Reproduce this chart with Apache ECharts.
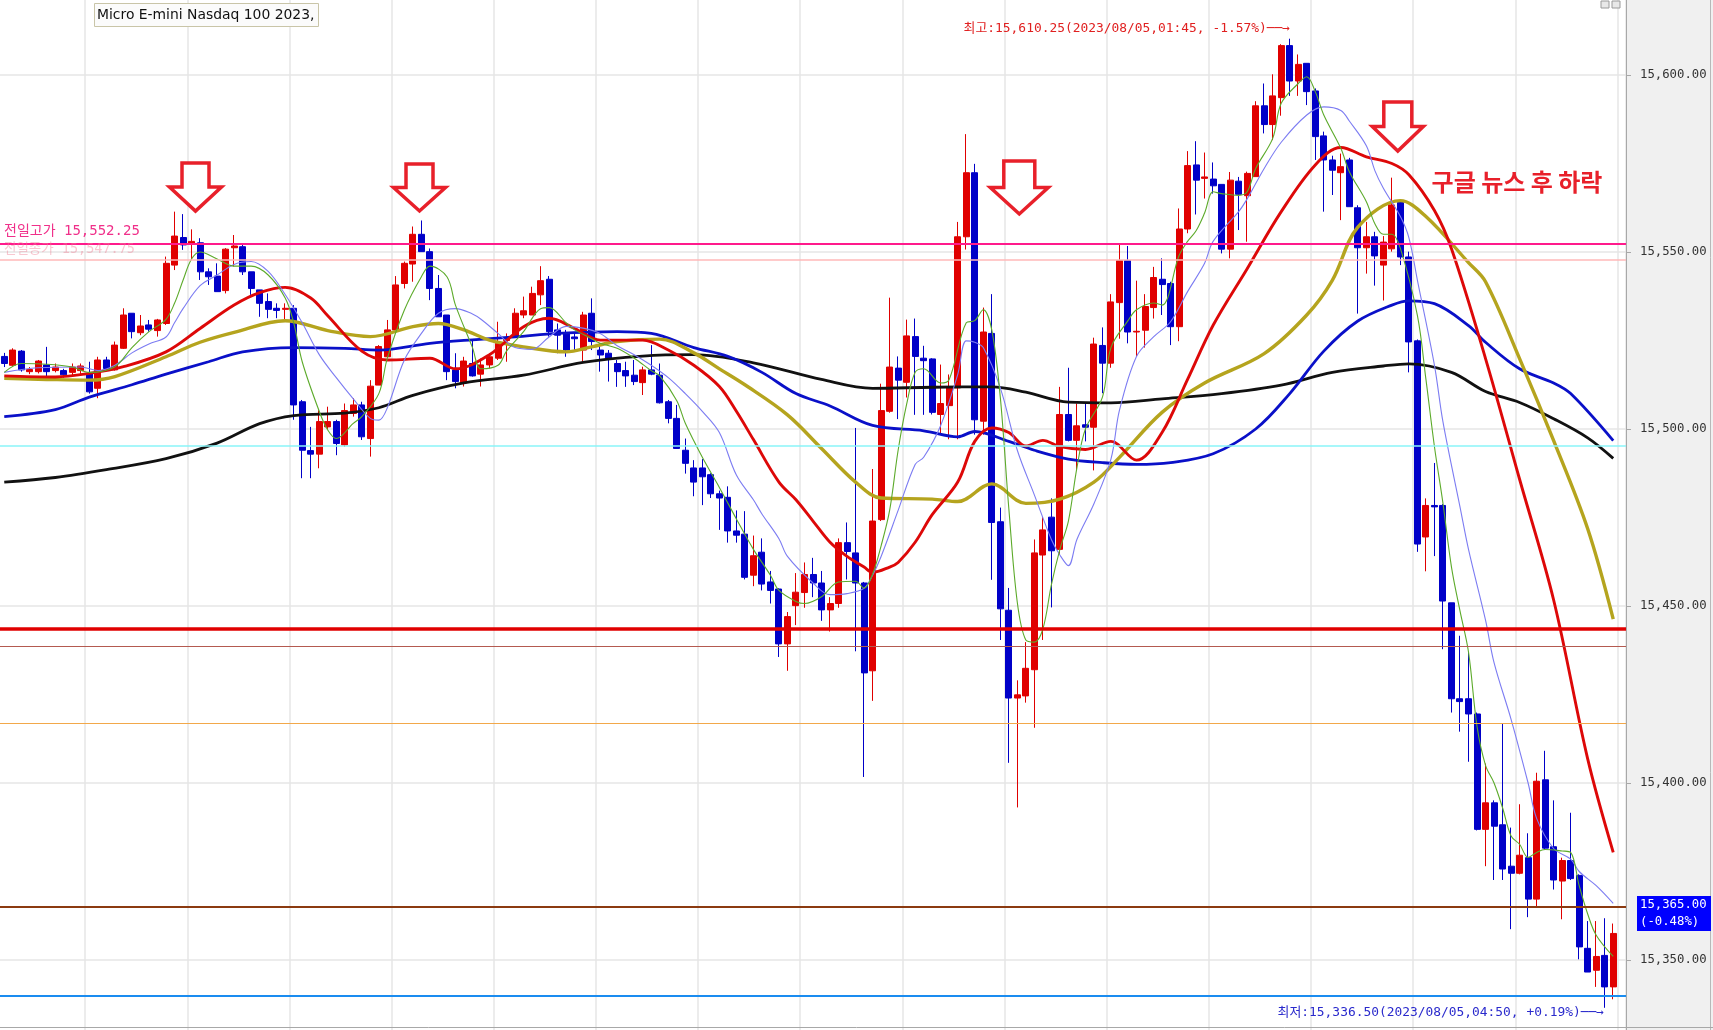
<!DOCTYPE html>
<html><head><meta charset="utf-8">
<script src="https://cdn.jsdelivr.net/npm/echarts@6/dist/echarts.min.js"></script>
<style>html,body{margin:0;padding:0;background:#f0f0f0}#c{width:1713px;height:1030px}</style>
</head><body><div id="c"></div>
<script>
// ---------- data (5-minute candles, Micro E-mini Nasdaq 100) ----------
const startHour = 13, startMinute = 10, slotCount = 191; // one empty slot on the right
const categories = [];
for (let k = 0; k < slotCount; k++) {
  const m = (startHour * 60 + startMinute + 5 * k) % 1440;
  categories.push(String(Math.floor(m / 60)).padStart(2, '0') + ':' + String(m % 60).padStart(2, '0'));
}

const opens = [15520.5,15518.0,15522.0,15516.2,15516.2,15518.1,15516.5,15516.5,15516.0,15516.5,
15515.7,15511.5,15519.5,15516.7,15522.8,15532.7,15527.2,15529.4,15527.8,15529.8,
15546.3,15554.1,15552.5,15552.6,15544.4,15543.2,15539.1,15551.2,15551.5,15544.4,
15539.3,15536.0,15534.1,15533.8,15534.1,15507.7,15493.9,15492.9,15500.6,15502.1,
15495.5,15504.4,15506.8,15497.3,15512.4,15520.4,15528.0,15541.1,15546.6,15555.0,
15550.1,15539.7,15532.2,15516.7,15513.0,15518.5,15515.5,15518.1,15520.0,15525.0,
15526.1,15532.2,15532.2,15537.9,15542.3,15528.0,15527.2,15526.0,15522.3,15532.7,
15522.3,15521.4,15518.5,15516.5,15515.2,15513.1,15516.7,15515.2,15507.7,15503.0,
15494.0,15489.0,15489.0,15487.1,15481.7,15480.7,15471.2,15470.3,15458.7,15465.2,
15456.8,15454.8,15439.3,15450.1,15453.8,15458.9,15456.5,15448.9,15450.7,15467.9,
15465.0,15456.5,15431.7,15474.4,15505.0,15517.2,15513.2,15526.1,15520.0,15519.8,
15504.1,15506.6,15511.6,15554.3,15572.4,15502.2,15527.0,15473.8,15448.8,15424.0,
15424.6,15432.0,15464.4,15475.1,15466.0,15504.1,15496.8,15501.2,15500.5,15523.6,
15518.6,15535.7,15547.6,15527.4,15527.9,15534.3,15542.3,15541.1,15528.9,15556.5,
15574.6,15570.8,15570.6,15569.1,15550.8,15570.0,15565.9,15571.3,15591.3,15586.0,
15593.6,15608.3,15598.3,15603.3,15595.5,15582.8,15576.0,15572.4,15576.0,15562.5,
15551.2,15554.3,15546.3,15550.9,15564.0,15548.6,15524.9,15469.5,15478.4,15478.4,
15450.9,15423.8,15423.8,15419.5,15386.9,15394.4,15388.2,15376.5,15374.5,15378.9,
15367.2,15400.9,15382.0,15372.3,15378.1,15373.9,15353.3,15347.1,15351.3,15342.4];

const closes = [15518.5,15522.3,15516.7,15516.8,15519.2,15516.2,15517.5,15515.3,15517.5,15517.8,
15510.5,15519.5,15517.1,15523.7,15532.2,15527.5,15529.1,15528.2,15530.8,15546.8,
15554.5,15552.0,15553.0,15544.4,15543.0,15538.8,15550.8,15551.7,15544.4,15539.7,
15535.5,15533.8,15533.5,15534.1,15506.8,15494.0,15492.9,15502.1,15502.1,15495.9,
15505.2,15506.8,15497.8,15512.1,15523.3,15528.0,15540.7,15546.8,15555.0,15550.1,
15539.7,15531.7,15516.2,15513.4,15519.2,15515.0,15518.1,15520.4,15524.2,15525.6,
15532.7,15533.4,15538.3,15541.9,15527.5,15526.5,15522.3,15525.5,15532.2,15524.7,
15520.9,15519.9,15516.2,15515.0,15513.4,15516.7,15515.5,15507.4,15503.0,15494.5,
15490.3,15485.0,15486.5,15481.7,15480.5,15471.2,15470.0,15458.1,15464.2,15456.2,
15454.4,15439.3,15447.0,15453.9,15458.9,15456.5,15448.9,15450.7,15467.9,15465.4,
15456.5,15431.1,15474.0,15505.2,15517.5,15513.8,15526.3,15520.5,15519.3,15504.7,
15507.2,15511.9,15554.3,15572.4,15502.6,15527.4,15473.6,15449.2,15424.0,15424.9,
15432.4,15465.0,15471.5,15465.6,15504.1,15496.8,15500.9,15500.5,15524.0,15518.6,
15535.9,15547.6,15527.4,15527.6,15534.6,15542.8,15540.8,15528.9,15556.5,15574.4,
15570.3,15571.2,15568.7,15550.8,15570.3,15566.3,15572.2,15591.3,15586.0,15594.1,
15608.3,15598.3,15603.0,15595.3,15582.6,15576.0,15573.1,15574.1,15562.8,15551.2,
15554.3,15548.9,15552.8,15563.3,15548.6,15524.6,15467.5,15478.4,15478.0,15451.4,
15423.8,15423.0,15419.5,15386.9,15394.4,15387.8,15375.7,15374.5,15379.6,15367.2,
15400.5,15381.6,15372.6,15378.1,15373.0,15353.7,15346.6,15351.0,15342.4,15357.5];

const lows = [15517.5,15517.6,15516.2,15515.5,15515.7,15514.8,15516.0,15514.5,15515.0,15515.5,
15510.0,15508.7,15516.7,15516.5,15522.6,15525.6,15526.5,15527.5,15526.1,15529.4,
15544.9,15550.6,15547.7,15542.1,15540.7,15538.8,15538.3,15545.9,15543.5,15537.9,
15531.7,15531.3,15531.3,15531.0,15502.6,15486.1,15486.1,15488.9,15499.7,15492.6,
15495.0,15503.5,15496.9,15492.2,15512.4,15520.4,15527.5,15539.7,15541.6,15550.1,
15536.4,15531.7,15513.8,15511.5,15512.0,15514.8,15512.0,15517.1,15519.5,15519.0,
15526.1,15531.3,15532.2,15535.0,15526.1,15521.4,15520.4,15522.3,15519.0,15522.3,
15516.2,15513.4,15511.9,15511.9,15512.4,15509.6,15515.2,15507.2,15501.6,15494.5,
15487.4,15481.0,15478.5,15480.5,15471.5,15467.9,15467.9,15457.5,15455.6,15454.4,
15450.7,15435.6,15431.7,15444.6,15449.5,15452.5,15445.8,15442.8,15449.5,15457.5,
15437.2,15401.7,15423.2,15474.0,15504.6,15502.8,15508.9,15504.0,15504.0,15504.1,
15498.4,15497.1,15497.1,15550.7,15498.4,15498.4,15457.4,15440.4,15405.7,15393.1,
15422.7,15415.6,15440.4,15449.6,15464.4,15496.5,15488.3,15496.5,15488.3,15510.1,
15517.3,15525.5,15524.2,15520.5,15523.0,15531.2,15532.2,15523.7,15524.8,15555.3,
15560.6,15565.1,15566.5,15549.6,15548.2,15556.2,15552.9,15571.3,15583.5,15581.6,
15588.5,15594.1,15594.1,15591.5,15576.0,15561.4,15566.1,15559.0,15562.8,15532.6,
15543.9,15540.5,15536.3,15550.1,15546.3,15516.0,15465.3,15459.8,15464.1,15437.8,
15419.9,15414.5,15406.0,15386.6,15376.5,15372.6,15372.6,15358.7,15374.2,15362.1,
15364.9,15381.2,15369.9,15361.5,15372.6,15350.2,15346.6,15342.4,15336.5,15338.9];

const highs = [15521.5,15522.8,15522.3,15517.5,15519.5,15523.2,15518.5,15517.0,15518.5,15518.5,
15519.0,15520.4,15520.4,15524.7,15534.1,15532.7,15532.2,15530.8,15531.1,15548.7,
15561.4,15560.7,15556.4,15553.9,15545.4,15546.8,15551.1,15554.8,15552.5,15544.4,
15539.3,15538.3,15535.5,15535.5,15535.0,15508.2,15500.6,15505.3,15506.3,15502.6,
15507.2,15508.7,15507.7,15513.8,15523.7,15530.8,15543.2,15547.3,15557.2,15558.9,
15551.0,15543.5,15532.2,15521.4,15520.4,15525.1,15519.9,15521.4,15530.3,15527.0,
15534.1,15537.4,15540.2,15546.0,15543.2,15529.8,15528.0,15527.2,15533.1,15536.9,
15524.2,15522.3,15519.5,15519.0,15519.5,15517.6,15523.7,15518.5,15508.2,15506.8,
15497.3,15491.2,15491.5,15487.5,15482.6,15483.8,15477.0,15476.8,15469.9,15469.1,
15459.9,15455.0,15448.3,15459.3,15462.3,15463.6,15459.9,15452.5,15469.1,15473.6,
15500.3,15456.8,15488.7,15512.8,15537.1,15520.5,15530.9,15531.2,15523.5,15520.0,
15518.2,15515.4,15558.5,15583.3,15574.9,15534.3,15538.1,15477.8,15455.1,15429.0,
15439.8,15468.8,15475.1,15480.4,15511.9,15517.3,15507.2,15507.2,15525.8,15528.7,
15538.1,15552.2,15551.7,15541.9,15538.1,15545.8,15548.2,15541.6,15562.3,15578.5,
15581.3,15578.1,15575.3,15569.1,15572.6,15571.2,15572.7,15592.6,15597.6,15600.2,
15608.7,15610.25,15605.8,15603.3,15596.2,15584.0,15577.2,15577.8,15576.6,15563.2,
15558.5,15555.7,15554.5,15571.0,15564.8,15550.1,15525.3,15480.4,15490.4,15478.8,
15450.9,15441.6,15437.0,15419.9,15405.5,15395.1,15416.8,15387.4,15394.0,15385.8,
15402.9,15409.1,15395.1,15378.9,15391.6,15374.2,15361.0,15361.0,15361.8,15360.3];

// moving-average lines as [candle index, value]
const ma5 = [[0,15516],[2,15518.5],[5,15518.3],[8,15517.5],[10,15516],[13,15517.6],[15,15523],[17,15527.5],[19,15531],[20,15535.5],[21,15542],[22,15548],[23,15550],[25,15548],[27,15546],[29,15546],[31,15543.5],[33,15537],[34,15530],[35,15519],[37,15505],[38,15499.7],[39,15497.3],[41,15501.6],[42,15503.5],[44,15510],[45,15520],[47,15533.6],[49,15543],[50,15546],[52,15543],[53,15535],[55,15523],[56,15517],[58,15518],[59,15522],[61,15527.5],[63,15534],[64,15534.3],[66,15530],[67,15528],[69,15525.5],[70,15524.2],[72,15522.8],[74,15520],[76,15516.5],[77,15515],[79,15508],[80,15501.6],[82,15492],[84,15483.5],[86,15474.6],[88,15466],[90,15458.7],[91,15454.4],[93,15451.3],[94,15450.7],[96,15452.6],[98,15456.8],[100,15457],[101,15455],[102,15459],[103,15467],[104,15477],[105,15494],[106,15507],[107,15516],[108,15517],[110,15513],[111,15514],[113,15530],[114,15530.6],[115,15533.7],[116,15528],[117,15509],[118,15477.6],[119,15451],[120,15440.4],[121,15439.8],[122,15443.5],[123,15456],[124,15466],[125,15474],[126,15489],[127,15500],[129,15509],[130,15523],[132,15530.6],[133,15533.7],[135,15535.6],[136,15535],[138,15549],[139,15553],[140,15556],[141,15561],[142,15567],[143,15566.5],[145,15566],[146,15567],[147,15573.6],[149,15582.1],[150,15592],[152,15597.6],[153,15599.5],[154,15595.3],[155,15588.7],[157,15579.3],[158,15572.7],[160,15564.2],[161,15558],[162,15555],[163,15555],[164,15551],[166,15532],[167,15514],[168,15495],[169,15479],[170,15461],[171,15448.6],[172,15437],[173,15416],[174,15405],[175,15400],[176,15393],[177,15385],[178,15382.7],[179,15379],[180,15380.4],[181,15381.2],[183,15380.8],[184,15380.4],[185,15371],[186,15363],[187,15357],[189,15351]];

const ma10 = [[0,15516],[4,15517.3],[9,15517.5],[11,15516.5],[13,15518],[15,15521.5],[17,15524],[19,15526],[20,15530],[21,15534],[23,15540.5],[25,15543.5],[27,15546.5],[29,15547.3],[31,15544.5],[33,15538],[35,15530],[37,15521],[39,15514.5],[41,15508.5],[43,15503],[44,15502.5],[45,15506],[47,15519.5],[49,15527],[51,15532.7],[53,15534],[55,15532.5],[56,15531],[58,15527],[60,15523],[62,15522.5],[64,15526],[66,15529],[68,15528.5],[70,15527],[72,15523.5],[74,15521],[76,15518],[78,15514.5],[80,15510],[82,15505],[84,15499],[86,15487],[88,15480],[89,15476],[91,15469],[92,15464],[95,15456.5],[97,15453.2],[99,15453.5],[101,15455],[102,15458.7],[103,15464],[105,15477],[107,15490],[108,15492],[110,15501],[112,15515.4],[113,15524.9],[114,15524.5],[115,15523],[117,15511.6],[119,15494],[121,15481.4],[123,15468.8],[124,15464.4],[125,15461.4],[126,15468.8],[128,15478.9],[130,15491.5],[131,15505.3],[133,15520.5],[135,15526],[137,15530.3],[139,15538.8],[141,15546.8],[142,15553],[145,15561.4],[146,15565],[148,15573.6],[150,15581],[153,15588.7],[155,15591],[157,15590],[158,15587],[160,15580],[161,15573],[162,15568],[164,15560],[165,15554],[166,15542],[168,15518],[169,15502],[171,15478],[172,15466],[174,15446],[175,15434],[177,15418],[179,15400],[180,15390],[182,15381.5],[184,15378.5],[185,15375],[187,15371],[189,15366]];

const ma20 = [[0,15515],[6,15514.7],[10,15515.7],[14,15517.6],[19,15521.8],[23,15528.4],[27,15535],[30,15538.5],[33,15540],[36,15537],[38,15532],[42,15522],[45,15519.5],[50,15520],[53,15517],[57,15521],[61,15528.9],[64,15531.3],[67,15528.4],[70,15525.1],[75,15525.1],[78,15522.3],[81,15518],[84,15512],[86,15505],[88,15497],[91,15485],[93,15480],[95,15474],[97,15468],[99,15464],[101,15461],[102,15459.5],[104,15461],[105,15462.3],[107,15468],[109,15475.8],[112,15485],[114,15496.5],[116,15500.3],[118,15499],[120,15495.2],[122,15496.8],[124,15495],[127,15494.2],[130,15496.5],[133,15491.2],[136,15499],[139,15514],[142,15529.3],[146,15545.3],[150,15561.4],[154,15574.6],[157,15579.5],[160,15576.9],[163,15575],[165,15571.8],[168,15561.7],[170,15550.9],[174,15519.9],[178,15485.8],[182,15451.7],[186,15406.8],[189,15380.4]];

const ma60 = [[0,15514.3],[5,15514],[10,15513.8],[13,15514.8],[19,15520.4],[23,15524.5],[27,15527.3],[33,15530.6],[38,15527.8],[43,15526.1],[48,15528.9],[51,15529.8],[54,15528],[57,15525.1],[61,15523.2],[66,15521.8],[69,15523.2],[72,15524.7],[77,15525.4],[81,15521.5],[84,15517],[87,15512.5],[92,15504],[96,15494.5],[100,15485],[103,15480.5],[109,15480.2],[112,15479.5],[116,15484.5],[120,15479],[124,15480.2],[128,15485],[131,15492],[136,15504.7],[141,15513],[148,15521.3],[153,15532.2],[156,15542],[159,15557],[164,15564.5],[167,15560],[172,15547],[174,15541.6],[178,15519.9],[182,15496.7],[186,15471.8],[189,15446.3]];

const ma120 = [[0,15503.5],[6,15505.5],[10,15509],[15,15512.5],[19,15515.5],[24,15519],[28,15521.8],[34,15523],[40,15522.8],[44,15522.3],[50,15524.2],[55,15525.2],[60,15526],[65,15527],[72,15527.5],[76,15527],[81,15523],[85,15520.5],[89,15516],[93,15510],[97,15506.5],[102,15501],[108,15499.5],[112,15497.8],[114,15499.3],[118,15496.5],[121,15494],[125,15491.5],[129,15490.5],[133,15490],[137,15490.5],[142,15493],[147,15500],[151,15510],[155,15522],[159,15530.5],[163,15535],[165,15536.2],[168,15535.4],[172,15529.2],[174,15524.5],[178,15517],[182,15513],[184,15510],[189,15496.7]];

const ma240 = [[0,15485],[6,15486.3],[12,15488.5],[19,15491.6],[25,15496],[30,15501.5],[34,15503.8],[40,15504.5],[44,15506],[48,15509.5],[54,15513],[61,15515.2],[68,15518.8],[75,15520.6],[81,15521],[88,15518.7],[96,15514],[102,15511.5],[109,15511.8],[116,15511.9],[120,15510.4],[125,15507.6],[130,15507.4],[136,15508.5],[143,15510],[150,15512.4],[156,15516],[162,15517.8],[165,15518.4],[170,15516],[174,15510.6],[178,15507.5],[182,15502.9],[186,15497.5],[189,15491.7]];

// horizontal reference levels
const prevDayHigh = 15552.25;
const prevDayLevel2 = 15547.75;
const cyanLevel = 15495.3;
const redLevel = 15443.5;
const darkRedLevel = 15438.5;
const orangeLevel = 15417.0;
const currentPrice = 15365.0;
const blueLevel = 15340.0;
const yMin = 15300, yMax = 15650, yStep = 50;

const highText = '최고:15,610.25(2023/08/05,01:45, -1.57%)──→';
const lowText = '최저:15,336.50(2023/08/05,04:50, +0.19%)──→';

// ---------- chart ----------
const candleData = opens.map((o, k) => [o, closes[k], lows[k], highs[k]]);
const chart = echarts.init(document.getElementById('c'), null, {renderer: 'canvas', width: 1713, height: 1030});

function maSeries(name, data, color, width, z) {
  return {type: 'line', name: name, data: data, showSymbol: false, symbol: 'none', smooth: 0.35,
    lineStyle: {color: color, width: width}, itemStyle: {color: color}, z: z, silent: true};
}
function hline(v, color, width) {
  return {yAxis: v, lineStyle: {color: color, width: width, type: 'solid'}};
}
function downArrow(cx, top, w, h, stemW) {
  const sh = top + h / 2;
  return {type: 'polygon', z: 120,
    shape: {points: [[cx - stemW / 2, top], [cx + stemW / 2, top], [cx + stemW / 2, sh], [cx + w / 2, sh],
      [cx, top + h], [cx - w / 2, sh], [cx - stemW / 2, sh]]},
    style: {fill: '#ffffff', stroke: '#e8202a', lineWidth: 3.5, lineJoin: 'miter'}};
}
function txt(text, x, y, font, fill, align) {
  return {type: 'text', z: 130, style: {text: text, x: x, y: y, font: font, fill: fill,
    align: align, textAlign: align, verticalAlign: 'middle', textVerticalAlign: 'middle'}};
}
const monoFont = '"DejaVu Sans Mono", "Noto Sans CJK KR", "DejaVu Sans", monospace';

const option = {
  backgroundColor: '#f0f0f0',
  animation: false,
  grid: {left: 0, right: 87, top: -102, bottom: -107, show: true, backgroundColor: '#ffffff',
    borderWidth: 0, containLabel: false, outerBoundsMode: 'none'},
  xAxis: {type: 'category', data: categories, boundaryGap: true,
    axisLine: {show: false}, axisTick: {show: false}, axisLabel: {show: false},
    splitLine: {show: true, interval: (idx) => idx % 12 === 10, lineStyle: {color: '#e6e6e6', width: 1.5}}},
  yAxis: {type: 'value', position: 'right', min: yMin, max: yMax, interval: yStep,
    axisLine: {show: true, lineStyle: {color: '#a8a8a8', width: 1}},
    axisTick: {show: true, length: 5, lineStyle: {color: '#a8a8a8'}},
    axisLabel: {margin: 14, color: '#333333', fontFamily: '"DejaVu Sans Mono", monospace', fontSize: 12.3,
      formatter: (v) => v.toLocaleString('en-US', {minimumFractionDigits: 2, maximumFractionDigits: 2})},
    splitLine: {show: true, lineStyle: {color: '#e6e6e6', width: 1.5}}},
  series: [
    {type: 'candlestick', data: candleData, barWidth: 6.5, z: 2,
      itemStyle: {color: '#e00000', color0: '#0000c8', borderColor: '#e00000', borderColor0: '#0000c8', borderWidth: 1},
      markLine: {symbol: ['none', 'none'], silent: true, z: 6, label: {show: false},
        data: [
          hline(prevDayLevel2, '#ffb8b8', 1.5),
          hline(prevDayHigh, '#ff1a8c', 2.2),
          hline(cyanLevel, '#8af4f8', 1.6),
          hline(darkRedLevel, '#b45a50', 1.2),
          hline(orangeLevel, '#f2a84a', 1.2),
          hline(redLevel, '#e00000', 3.6),
          hline(currentPrice, '#8b3a10', 2),
          hline(blueLevel, '#1a8cf0', 2)
        ]}},
    maSeries('MA240', ma240, '#111111', 2.8, 3),
    maSeries('MA120', ma120, '#0a10c8', 2.8, 3),
    maSeries('MA60', ma60, '#b5a41e', 3.4, 3),
    maSeries('MA20', ma20, '#dd0808', 2.9, 4),
    maSeries('MA10', ma10, '#7c7cf2', 1.1, 5),
    maSeries('MA5', ma5, '#5caa2a', 1.1, 5)
  ],
  graphic: [
    // right axis panel borders and bottom border
    {type: 'line', z: 110, shape: {x1: 1710.5, y1: 0, x2: 1710.5, y2: 1030}, style: {stroke: '#b8b8b8', lineWidth: 1}},
    {type: 'line', z: 110, shape: {x1: 0, y1: 1027.5, x2: 1713, y2: 1027.5}, style: {stroke: '#a8a8a8', lineWidth: 1}},
    // small window icons top-right
    {type: 'rect', z: 110, shape: {x: 1601, y: 1, width: 8, height: 7}, style: {fill: '#e8e8e8', stroke: '#9a9a9a', lineWidth: 1}},
    {type: 'rect', z: 110, shape: {x: 1612, y: 1, width: 8, height: 7}, style: {fill: '#e8e8e8', stroke: '#9a9a9a', lineWidth: 1}},
    // title box
    {type: 'rect', z: 125, shape: {x: 94.5, y: 3.5, width: 224, height: 23}, style: {fill: '#fbfbfb', stroke: '#c9c5a8', lineWidth: 1}},
    txt('Micro E-mini Nasdaq 100 2023,', 97, 15.5, '13.9px "DejaVu Sans", sans-serif', '#111111', 'left'),
    // level labels
    txt('전일고가 15,552.25', 4, 231, '14px ' + monoFont, '#f0308a', 'left'),
    txt('전일종가 15,547.75', 4, 249, '13.5px ' + monoFont, 'rgba(240,130,150,0.45)', 'left'),
    // high / low annotations
    txt(highText, 1290, 29, '12.9px ' + monoFont, '#e02020', 'right'),
    txt(lowText, 1604, 1013, '12.9px ' + monoFont, '#2a2acc', 'right'),
    // down arrows
    downArrow(195.5, 163, 52, 48, 27),
    downArrow(419.5, 164, 52, 47, 27),
    downArrow(1019.3, 161, 58, 53, 31),
    downArrow(1397.8, 102, 51, 49, 28),
    // news annotation
    txt('구글 뉴스 후 하락', 1517, 182, 'bold 24px "Noto Sans CJK KR", sans-serif', '#e8202a', 'center'),
    // current price box on the axis
    {type: 'rect', z: 130, shape: {x: 1637, y: 896, width: 74, height: 35}, style: {fill: '#0000ff'}},
    txt('15,365.00', 1640, 905, '12.3px ' + monoFont, '#ffffff', 'left'),
    txt('(-0.48%)', 1640, 922, '12.3px ' + monoFont, '#ffffff', 'left')
  ]
};
chart.setOption(option);
</script>
</body></html>
